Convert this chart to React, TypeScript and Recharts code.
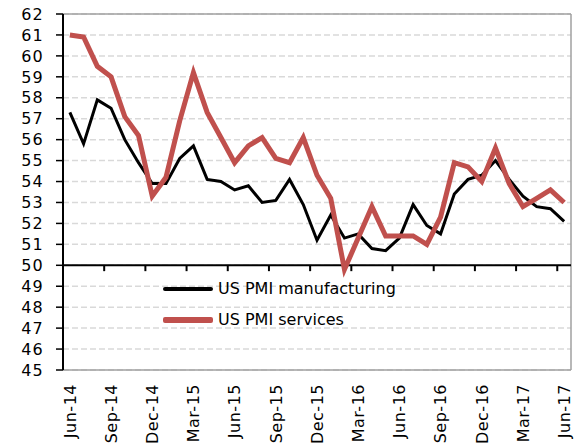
import React from "react";
import {
  LineChart,
  Line,
  XAxis,
  YAxis,
  CartesianGrid,
  ReferenceLine,
  Legend,
} from "recharts";

// monthly, Jun-14 .. Jun-17
const months = [
  "Jun-14", "Jul-14", "Aug-14", "Sep-14", "Oct-14", "Nov-14", "Dec-14",
  "Jan-15", "Feb-15", "Mar-15", "Apr-15", "May-15", "Jun-15", "Jul-15",
  "Aug-15", "Sep-15", "Oct-15", "Nov-15", "Dec-15", "Jan-16", "Feb-16",
  "Mar-16", "Apr-16", "May-16", "Jun-16", "Jul-16", "Aug-16", "Sep-16",
  "Oct-16", "Nov-16", "Dec-16", "Jan-17", "Feb-17", "Mar-17", "Apr-17",
  "May-17", "Jun-17",
];

const manufacturing = [
  57.3, 55.8, 57.9, 57.5, 56.0, 54.9, 53.9, 53.9, 55.1, 55.7, 54.1, 54.0,
  53.6, 53.8, 53.0, 53.1, 54.1, 52.9, 51.2, 52.4, 51.3, 51.5, 50.8, 50.7,
  51.3, 52.9, 51.9, 51.5, 53.4, 54.1, 54.3, 55.0, 54.1, 53.3, 52.8, 52.7,
  52.1,
];

const services = [
  61.0, 60.9, 59.5, 59.0, 57.1, 56.2, 53.3, 54.2, 56.9, 59.2, 57.3, 56.1,
  54.9, 55.7, 56.1, 55.1, 54.9, 56.1, 54.3, 53.2, 49.8, 51.3, 52.8, 51.4,
  51.4, 51.4, 51.0, 52.3, 54.9, 54.7, 54.0, 55.6, 53.9, 52.8, 53.2, 53.6,
  53.0,
];

const yTicks = [45, 46, 47, 48, 49, 50, 51, 52, 53, 54, 55, 56, 57, 58, 59, 60, 61, 62];
const labelTicks = [0, 3, 6, 9, 12, 15, 18, 21, 24, 27, 30, 33, 36];
const markTicks = [2.5, 5.5, 8.5, 11.5, 14.5, 17.5, 20.5, 23.5, 26.5, 29.5, 32.5, 35.5];

const data = months.map((m, i) => ({
  i,
  month: m,
  manufacturing: manufacturing[i],
  services: services[i],
}));

const FONT = "'DejaVu Sans', sans-serif";
const RED = "#C0504D";

const XTick = (props: any) => {
  const { x, y, payload } = props;
  return (
    <text
      x={x}
      y={y}
      dy="0.36em"
      transform={`rotate(-90, ${x}, ${y})`}
      textAnchor="end"
      fill="#000"
      fontSize={16}
      fontFamily={FONT}
      letterSpacing={0.5}
    >
      {months[payload.value]}
    </text>
  );
};

const LegendBox = () => (
  <div style={{ fontFamily: FONT, fontSize: 16, color: "#000" }}>
    {[
      { name: "US PMI manufacturing", color: "#000", w: 4 },
      { name: "US PMI services", color: RED, w: 6 },
    ].map((s) => (
      <div key={s.name} style={{ display: "flex", alignItems: "center", height: 31 }}>
        <span
          style={{
            display: "inline-block",
            width: 50,
            height: s.w,
            background: s.color,
            borderRadius: 2,
            marginRight: 5,
          }}
        />
        <span>{s.name}</span>
      </div>
    ))}
  </div>
);

export default function App() {
  return (
    <div style={{ position: "absolute", left: 0, top: 0, background: "#fff" }}>
      <LineChart
        width={576}
        height={447}
        data={data}
        margin={{ top: 14, right: 5, bottom: 0, left: 0 }}
      >
        <CartesianGrid
          vertical={false}
          stroke="#d9d9d9"
          strokeDasharray="6 3"
          strokeWidth={1.5}
        />
        <XAxis
          dataKey="i"
          type="number"
          domain={[-0.5, 36.5]}
          ticks={labelTicks}
          interval={0}
          height={77}
          tickLine={false}
          tickSize={0}
          tickMargin={14}
          axisLine={{ stroke: "#a0a0a0", strokeWidth: 1.5 }}
          tick={<XTick />}
        />
        <YAxis
          type="number"
          domain={[45, 62]}
          ticks={yTicks}
          interval={0}
          width={63}
          axisLine={{ stroke: "#000", strokeWidth: 2 }}
          tickLine={{ stroke: "#000", strokeWidth: 1.5 }}
          tickSize={7}
          tickMargin={12}
          tick={{ fill: "#000", fontSize: 16, fontFamily: FONT, letterSpacing: 1.2 }}
        />
        <ReferenceLine y={62} stroke="#a0a0a0" strokeWidth={1.5} />
        <ReferenceLine x={36.5} stroke="#a0a0a0" strokeWidth={1.5} />
        <ReferenceLine y={50} stroke="#000" strokeWidth={2} />
        {markTicks.map((t) => (
          <ReferenceLine
            key={t}
            segment={[
              { x: t, y: 50 },
              { x: t, y: 49.72 },
            ]}
            stroke="#000"
            strokeWidth={2}
          />
        ))}
        <Legend
          layout="horizontal"
          verticalAlign="middle"
          align="center"
          content={<LegendBox />}
          wrapperStyle={{ position: "absolute", left: 163, top: 273, width: "auto" }}
        />
        <Line
          dataKey="manufacturing"
          stroke="#000"
          strokeWidth={3}
          dot={false}
          type="linear"
          isAnimationActive={false}
        />
        <Line
          dataKey="services"
          stroke={RED}
          strokeWidth={5}
          dot={false}
          type="linear"
          isAnimationActive={false}
        />
      </LineChart>
    </div>
  );
}
